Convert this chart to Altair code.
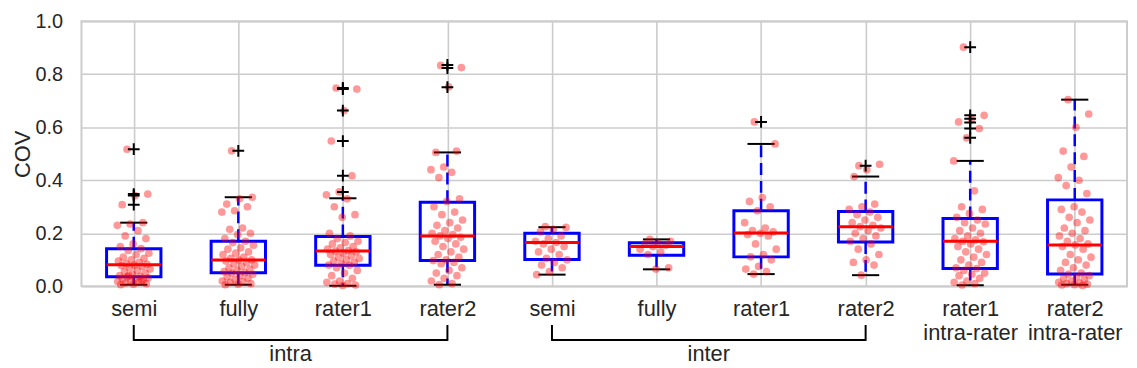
import json
import altair as alt
import pandas as pd

# ---------------- data ----------------
categories = ["semi", "fully", "rater1", "rater2",
              "semi", "fully", "rater1", "rater2",
              "rater1|intra-rater", "rater2|intra-rater"]

q1 = [0.036, 0.051, 0.079, 0.097, 0.101, 0.117, 0.111, 0.167, 0.067, 0.046]
median = [0.081, 0.099, 0.133, 0.190, 0.165, 0.150, 0.201, 0.225, 0.170, 0.156]
q3 = [0.142, 0.170, 0.188, 0.317, 0.200, 0.164, 0.285, 0.282, 0.256, 0.326]
whisker_low = [0.006, 0.006, 0.002, 0.006, 0.044, 0.064, 0.046, 0.042, 0.004, 0.006]
whisker_high = [0.240, 0.336, 0.332, 0.505, 0.223, 0.177, 0.537, 0.414, 0.473, 0.704]

fliers = [
    [0.517, 0.348, 0.342, 0.308],
    [0.511],
    [0.748, 0.744, 0.663, 0.548, 0.417, 0.356],
    [0.835, 0.823, 0.751],
    [],
    [],
    [0.620],
    [0.455],
    [0.902, 0.645, 0.632, 0.618, 0.595, 0.560],
    [],
]

points = [
    [0.517, 0.348, 0.342, 0.308, 0.24, 0.235, 0.23, 0.21, 0.19, 0.18, 0.16, 0.15,
     0.142, 0.135, 0.125, 0.12, 0.11, 0.105, 0.1, 0.095, 0.09, 0.085, 0.083, 0.08,
     0.078, 0.075, 0.07, 0.065, 0.06, 0.055, 0.05, 0.045, 0.04, 0.038, 0.036, 0.032,
     0.03, 0.028, 0.025, 0.02, 0.018, 0.015, 0.012, 0.01, 0.008, 0.006, 0.02, 0.04],
    [0.511, 0.336, 0.33, 0.31, 0.30, 0.285, 0.28, 0.22, 0.215, 0.2, 0.195, 0.18,
     0.17, 0.165, 0.155, 0.145, 0.14, 0.13, 0.125, 0.12, 0.11, 0.105, 0.1, 0.099,
     0.095, 0.09, 0.085, 0.08, 0.075, 0.07, 0.065, 0.06, 0.055, 0.051, 0.05, 0.045,
     0.04, 0.035, 0.03, 0.025, 0.02, 0.018, 0.015, 0.01, 0.008, 0.006],
    [0.748, 0.744, 0.663, 0.548, 0.417, 0.356, 0.345, 0.33, 0.30, 0.27, 0.26, 0.2,
     0.19, 0.18, 0.17, 0.165, 0.16, 0.15, 0.145, 0.14, 0.135, 0.133, 0.13, 0.125,
     0.12, 0.115, 0.11, 0.105, 0.1, 0.095, 0.09, 0.085, 0.08, 0.079, 0.07, 0.06,
     0.05, 0.04, 0.03, 0.02, 0.015, 0.01, 0.008, 0.005, 0.003],
    [0.833, 0.825, 0.752, 0.505, 0.51, 0.45, 0.44, 0.43, 0.41, 0.33, 0.32, 0.3,
     0.28, 0.27, 0.25, 0.24, 0.23, 0.22, 0.21, 0.2, 0.195, 0.19, 0.185, 0.18, 0.17,
     0.16, 0.15, 0.14, 0.13, 0.12, 0.11, 0.1, 0.097, 0.09, 0.085, 0.07, 0.06, 0.05,
     0.04, 0.03, 0.02, 0.01, 0.006],
    [0.225, 0.222, 0.215, 0.205, 0.19, 0.18, 0.17, 0.165, 0.16, 0.15, 0.14, 0.13,
     0.12, 0.105, 0.1, 0.09, 0.08, 0.07, 0.055, 0.044],
    [0.177, 0.17, 0.165, 0.16, 0.155, 0.15, 0.14, 0.13, 0.12, 0.07, 0.065],
    [0.62, 0.537, 0.335, 0.32, 0.30, 0.285, 0.24, 0.22, 0.21, 0.205, 0.2, 0.195,
     0.19, 0.16, 0.14, 0.12, 0.111, 0.1, 0.075, 0.065, 0.055, 0.046],
    [0.455, 0.46, 0.44, 0.414, 0.31, 0.3, 0.29, 0.28, 0.27, 0.26, 0.25, 0.24, 0.23,
     0.225, 0.22, 0.21, 0.2, 0.19, 0.18, 0.17, 0.16, 0.14, 0.12, 0.1, 0.09, 0.08,
     0.042],
    [0.902, 0.645, 0.632, 0.62, 0.595, 0.56, 0.473, 0.36, 0.3, 0.29, 0.275, 0.26,
     0.25, 0.24, 0.235, 0.22, 0.21, 0.2, 0.19, 0.18, 0.175, 0.17, 0.168, 0.16, 0.15,
     0.14, 0.13, 0.12, 0.11, 0.1, 0.09, 0.08, 0.07, 0.067, 0.06, 0.05, 0.045, 0.04,
     0.03, 0.02, 0.015, 0.01, 0.005],
    [0.704, 0.65, 0.6, 0.51, 0.49, 0.45, 0.41, 0.4, 0.38, 0.35, 0.3, 0.29, 0.28,
     0.26, 0.25, 0.24, 0.22, 0.21, 0.2, 0.19, 0.18, 0.17, 0.16, 0.156, 0.15, 0.14,
     0.12, 0.11, 0.1, 0.09, 0.08, 0.07, 0.06, 0.05, 0.046, 0.04, 0.035, 0.03, 0.025,
     0.02, 0.015, 0.012, 0.01, 0.008, 0.006, 0.005, 0.003],
]

group_names = ["intra", "inter"]
group_start = [0, 4]
group_end = [3, 7]

y_ticks = [0.0, 0.2, 0.4, 0.6, 0.8, 1.0]

# ---------------- tables ----------------
summary = pd.DataFrame({
    "idx": list(range(len(categories))),
    "q1": q1, "med": median, "q3": q3,
    "wlo": whisker_low, "whi": whisker_high,
})
pts = pd.DataFrame(
    [{"idx": i, "k": k, "v": v} for i, vals in enumerate(points) for k, v in enumerate(vals)]
)
fl = pd.DataFrame(
    [{"idx": i, "v": v} for i, vals in enumerate(fliers) for v in vals]
)
groups = pd.DataFrame({"name": group_names, "s": group_start, "e": group_end})

FONT = "Liberation Sans"
TXT = "#262626"
TOP = 20          # absolute y of plot top
W, H = 1053, 267  # plot area

label_js = json.dumps(categories)
X_SCALE = alt.Scale(domain=[0, 10], nice=False, zero=False)
Y_SCALE = alt.Scale(domain=[0, 1], nice=False)
X_AX = alt.Axis(values=[i + 0.5 for i in range(10)],
                labelExpr=f"split({label_js}[floor(datum.value)], '|')",
                title=None, labelPadding=12, labelLineHeight=25, labelFontSize=22)
Y_AX = alt.Axis(values=y_ticks, format=".1f", title="COV", labelPadding=19,
                titlePadding=1, labelFontSize=20)

def X(f):
    return alt.X(f, type="quantitative", scale=X_SCALE, axis=X_AX)

def Y(f):
    return alt.Y(f, type="quantitative", scale=Y_SCALE, axis=Y_AX)

sb = alt.Chart(summary).transform_calculate(
    xc="datum.idx + 0.5", xl="datum.idx + 0.24", xr="datum.idx + 0.76",
    cl="datum.idx + 0.37", cr="datum.idx + 0.63")

boxes = sb.mark_rect(fill="transparent", stroke="#0000ff", strokeWidth=3).encode(
    x=X("xl"), x2="xr", y=Y("q1"), y2="q3")
wh_hi = sb.mark_rule(color="#0000ff", strokeWidth=2.5, strokeDash=[12, 6]).encode(
    x=X("xc"), y=Y("q3"), y2="whi")
wh_lo = sb.mark_rule(color="#0000ff", strokeWidth=2.5, strokeDash=[12, 6]).encode(
    x=X("xc"), y=Y("q1"), y2="wlo")
cap_hi = sb.mark_rule(color="black", strokeWidth=2).encode(x=X("cl"), x2="cr", y=Y("whi"))
cap_lo = sb.mark_rule(color="black", strokeWidth=2).encode(x=X("cl"), x2="cr", y=Y("wlo"))
meds = sb.mark_rule(color="#ff0000", strokeWidth=3).encode(x=X("xl"), x2="xr", y=Y("med"))

flier_marks = alt.Chart(fl).transform_calculate(xc="datum.idx + 0.5").mark_point(
    shape="M-1,0L1,0M0,-1L0,1", filled=False, stroke="black", strokeWidth=2,
    size=140, opacity=1).encode(x=X("xc"), y=Y("v"))

dots = alt.Chart(pts).transform_calculate(
    xj="datum.idx + 0.5 + (((datum.k * 0.6180339887 + 0.3) % 1) - 0.5) * 0.32"
).mark_circle(color="#ff0000", opacity=0.4, size=60).encode(x=X("xj"), y=Y("v"))

# bracket geometry (absolute page y minus plot top)
BR_Y = 341 - TOP
BR_TOP = 326 - TOP
TXT_Y = 355 - TOP

gb = alt.Chart(groups).transform_calculate(
    xs="datum.s + 0.5", xe="datum.e + 0.5", xm="(datum.s + datum.e) / 2 + 0.5")
br_h = gb.mark_rule(color="black", strokeWidth=2).encode(
    x=X("xs"), x2="xe", y=alt.value(BR_Y))
br_l = gb.mark_rule(color="black", strokeWidth=2).encode(
    x=X("xs"), y=alt.value(BR_TOP), y2=alt.value(BR_Y + 1))
br_r = gb.mark_rule(color="black", strokeWidth=2).encode(
    x=X("xe"), y=alt.value(BR_TOP), y2=alt.value(BR_Y + 1))
br_t = gb.mark_text(font=FONT, fontSize=22, color=TXT, baseline="middle").encode(
    x=X("xm"), y=alt.value(TXT_Y), text="name:N")

chart = alt.layer(
    boxes, wh_hi, wh_lo, cap_hi, cap_lo, meds, dots, flier_marks,
    br_h, br_l, br_r, br_t
).properties(
    width=W, height=H,
    padding={"left": 74, "top": TOP - 8, "right": 2, "bottom": 360 - (TOP - 8) - H},
    autosize=alt.AutoSizeParams(type="none"),
    background="white",
).configure_view(
    stroke="#cccccc", strokeWidth=2
).configure_axis(
    grid=True, gridColor="#cccccc", gridWidth=1.6, domain=False, ticks=False,
    labelFont=FONT, labelColor=TXT,
    titleFont=FONT, titleFontSize=22, titleColor=TXT, titleFontWeight="normal",
)

chart.save("out.html", embed_options={"renderer": "svg", "actions": False})
